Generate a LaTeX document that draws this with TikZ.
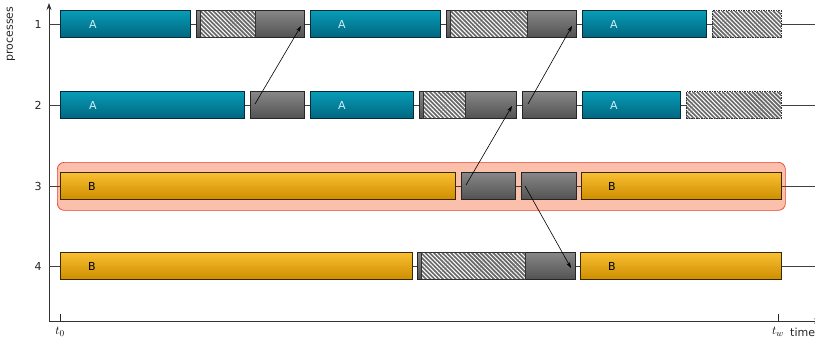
\documentclass[tikz,border=0pt]{standalone}
\usepackage{fontspec}
\setsansfont{DejaVu Sans}
\usetikzlibrary{arrows.meta,patterns.meta}
\definecolor{aTop}{RGB}{8,156,182}
\definecolor{aBot}{RGB}{0,102,128}
\definecolor{aBorder}{RGB}{0,45,60}
\definecolor{bTop}{RGB}{249,190,50}
\definecolor{bBot}{RGB}{206,142,0}
\definecolor{bBorder}{RGB}{60,40,0}
\definecolor{gTop}{RGB}{135,135,135}
\definecolor{gBot}{RGB}{82,82,82}
\definecolor{hlFill}{RGB}{251,192,172}
\definecolor{hlDraw}{RGB}{238,60,45}
\definecolor{hatchBg}{RGB}{105,105,105}
\definecolor{aText}{RGB}{205,240,248}
\tikzset{
  bar/.style={anchor=west, minimum height=27pt, inner sep=0pt, outer sep=0pt, line width=0.8pt},
  abox/.style={bar, draw=aBorder, top color=aTop, bottom color=aBot},
  bbox/.style={bar, draw=bBorder, top color=bTop, bottom color=bBot},
  gbox/.style={bar, draw=black!85, top color=gTop, bottom color=gBot},
  hbox/.style={bar, draw=black!80, preaction={fill=hatchBg},
    pattern={Lines[angle=-45,distance=3pt,line width=1pt]}, pattern color=white},
  hdbox/.style={bar, preaction={fill=hatchBg},
    pattern={Lines[angle=-45,distance=3pt,line width=1pt]}, pattern color=white,
    postaction={draw=black!80, dash pattern=on 1.5pt off 1pt}},
  hlbox/.style={anchor=north west, draw=hlDraw, fill=hlFill, rounded corners=7pt, line width=0.7pt, inner sep=0pt},
  alab/.style={text=aText, font=\sffamily\fontsize{11}{13}\selectfont},
  blab/.style={text=black, font=\sffamily\fontsize{11}{13}\selectfont},
  plab/.style={text=black!85, font=\sffamily\fontsize{11}{13}\selectfont},
  mlab/.style={font=\fontsize{13}{15}\selectfont},
  msg/.style={-{Stealth[length=6pt,width=4pt]}, line width=0.6pt},
  rowline/.style={draw=black!75, line width=0.7pt},
  axis/.style={draw=black!80, line width=0.8pt, -{Stealth[length=7pt,width=5pt]}},
}
\begin{document}
\begin{tikzpicture}[x=1pt,y=-1pt]
\useasboundingbox (0,0) rectangle (815,343);
% highlight
\node[hlbox, minimum width=728pt, minimum height=48pt] (hl) at (57,162) {};
% axes
\coordinate (o) at (49,321);
\coordinate (ytop) at (49,3);
\coordinate (xend) at (821,321);
\draw[axis] (o) -- (ytop);
\draw[axis] (o) -- (xend);
\coordinate (t0a) at (60,321); \coordinate (t0b) at (60,314);
\coordinate (twa) at (778,321); \coordinate (twb) at (778,314);
\draw[black!85, line width=0.8pt] (t0a) -- (t0b);
\draw[black!85, line width=0.8pt] (twa) -- (twb);
\node[mlab] (t0) at (60,332) {$t_0$};
\node[mlab] (tw) at (778,332) {$t_w$};
\node[plab, anchor=west, inner sep=0pt] (time) at (790,332) {time};
\node[plab, rotate=90] (proc) at (11,34) {processes};
% row lines and labels
\foreach \r/\y in {1/24,2/105,3/186,4/266}{
  \coordinate (rs\r) at (49,\y);
  \coordinate (re\r) at (815,\y);
  \draw[rowline] (rs\r) -- (re\r);
  \node[plab] (pl\r) at (38,\y) {\r};
}
% row 1
\node[abox, minimum width=130pt] (a11) at (60,24) {};
\node[gbox, minimum width=108pt] (g11) at (196,24) {};
\node[hbox, minimum width=55pt] (h11) at (200,24) {};
\node[abox, minimum width=130pt] (a12) at (310,24) {};
\node[gbox, minimum width=130pt] (g12) at (446,24) {};
\node[hbox, minimum width=77pt] (h12) at (450,24) {};
\node[abox, minimum width=124pt] (a13) at (582,24) {};
\node[hdbox, minimum width=69pt] (hd1) at (712,24) {};
% row 2
\node[abox, minimum width=184pt] (a21) at (60,105) {};
\node[gbox, minimum width=54pt] (g21) at (250,105) {};
\node[abox, minimum width=103pt] (a22) at (310,105) {};
\node[gbox, minimum width=97pt] (g22) at (419,105) {};
\node[hbox, minimum width=42pt] (h22) at (423,105) {};
\node[gbox, minimum width=54pt] (g23) at (522,105) {};
\node[abox, minimum width=98pt] (a23) at (582,105) {};
\node[hdbox, minimum width=95pt] (hd2) at (686,105) {};
% row 3
\node[bbox, minimum width=395pt] (b31) at (60,186) {};
\node[gbox, minimum width=54pt] (g31) at (461,186) {};
\node[gbox, minimum width=55pt] (g32) at (521,186) {};
\node[bbox, minimum width=200pt] (b32) at (581,186) {};
% row 4
\node[bbox, minimum width=352pt] (b41) at (60,266) {};
\node[gbox, minimum width=158pt] (g41) at (417,266) {};
\node[hbox, minimum width=104pt] (h41) at (421,266) {};
\node[bbox, minimum width=201pt] (b42) at (580,266) {};
% labels
\node[alab] (la11) at (93,24) {A};
\node[alab] (la12) at (342,24) {A};
\node[alab] (la13) at (614,24) {A};
\node[alab] (la21) at (93,105) {A};
\node[alab] (la22) at (342,105) {A};
\node[alab] (la23) at (614,105) {A};
\node[blab] (lb31) at (92,186) {B};
\node[blab] (lb32) at (612,186) {B};
\node[blab] (lb41) at (92,266) {B};
\node[blab] (lb42) at (612,266) {B};
% messages
\coordinate (m1s) at (255,104); \coordinate (m1e) at (301,26);
\coordinate (m2s) at (466,185); \coordinate (m2e) at (512,106);
\coordinate (m3s) at (528,104); \coordinate (m3e) at (572,26);
\coordinate (m4s) at (525,186); \coordinate (m4e) at (571,268);
\draw[msg] (m1s) -- (m1e);
\draw[msg] (m2s) -- (m2e);
\draw[msg] (m3s) -- (m3e);
\draw[msg] (m4s) -- (m4e);
\end{tikzpicture}
\end{document}
